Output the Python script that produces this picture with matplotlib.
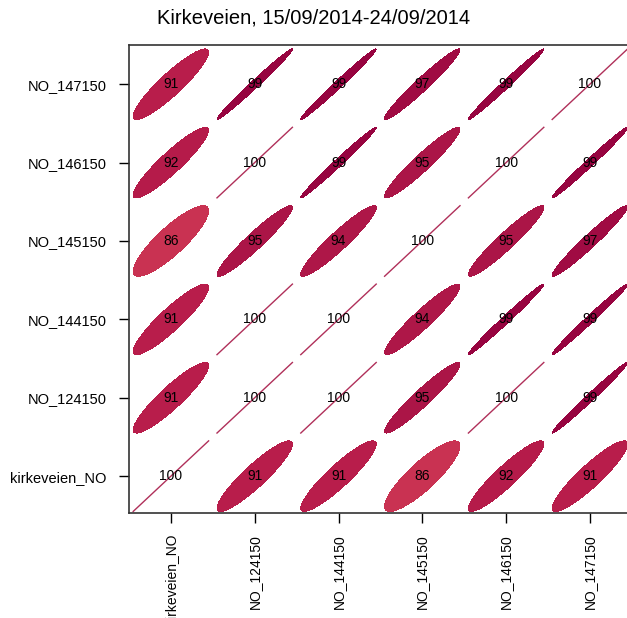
import numpy as np
import matplotlib
matplotlib.use("Agg")
import matplotlib.pyplot as plt
from matplotlib.patches import Polygon
from matplotlib.colors import LinearSegmentedColormap

plt.rcParams['font.family'] = ['Liberation Sans', 'DejaVu Sans']

sites = ["kirkeveien_NO", "NO_124150", "NO_144150", "NO_145150", "NO_146150", "NO_147150"]

# correlation (%) between sites, rows/cols in the same order as `sites`
corr = np.array([
    [100, 91, 91, 86, 92, 91],
    [91, 100, 100, 95, 100, 99],
    [91, 100, 100, 94, 99, 99],
    [86, 95, 94, 100, 95, 97],
    [92, 100, 99, 95, 100, 99],
    [91, 99, 99, 97, 99, 100],
])

title = "Kirkeveien, 15/09/2014-24/09/2014"

# colour scale for the ellipses over the range of correlations shown
cmap = LinearSegmentedColormap.from_list(
    "corr", [(0.0, "#cc3653"), (0.40, "#b81d4b"), (0.667, "#ab1547"),
             (0.80, "#a00b43"), (1.0, "#93003f")])
vmin, vmax = 85, 100

fig = plt.figure(figsize=(6.27, 6.18), dpi=100)
# panel runs past the right edge of the figure
ax = fig.add_axes([129 / 627, 105 / 618, 540 / 627, 468 / 618])

n = len(sites)
size = 0.45
t = np.linspace(0, 2 * np.pi, 200)

for i in range(n):          # row (y)
    for j in range(n):      # column (x)
        r = corr[i, j] / 100.0
        d = np.arccos(min(r, 1.0))
        cx, cy = j + 1, i + 1
        xs = cx + size * np.cos(t + d / 2)
        ys = cy + size * np.cos(t - d / 2)
        col = cmap((corr[i, j] - vmin) / (vmax - vmin))
        if r >= 0.9999:
            ax.plot([cx - size, cx + size], [cy - size, cy + size],
                    color="#b0305a", lw=1.0)
        else:
            ax.add_patch(Polygon(np.column_stack([xs, ys]), closed=True,
                                 facecolor=col, edgecolor="none",
                                 antialiased=False))
        ax.text(cx, cy, f"{corr[i, j]}", ha="center", va="center",
                fontsize=10, color="black")

ax.set_xlim(0.5, 0.5 + 540 / 83.8)
ax.set_ylim(0.53, n + 0.5)
ax.set_xticks(range(1, n + 1))
ax.set_yticks(range(1, n + 1))
ax.set_xticklabels(sites, rotation=90, fontsize=10)
ax.set_yticklabels(sites, fontsize=10.5)
ax.tick_params(axis="y", length=7, width=1, pad=9)
ax.tick_params(axis="x", length=7, width=1, pad=8)
for s in ax.spines.values():
    s.set_linewidth(1.2)
    s.set_color("#333333")

fig.text(0.5, 1 - 18 / 618, title, ha="center", va="center", fontsize=14.5)

fig.savefig("out.png", dpi=100)
